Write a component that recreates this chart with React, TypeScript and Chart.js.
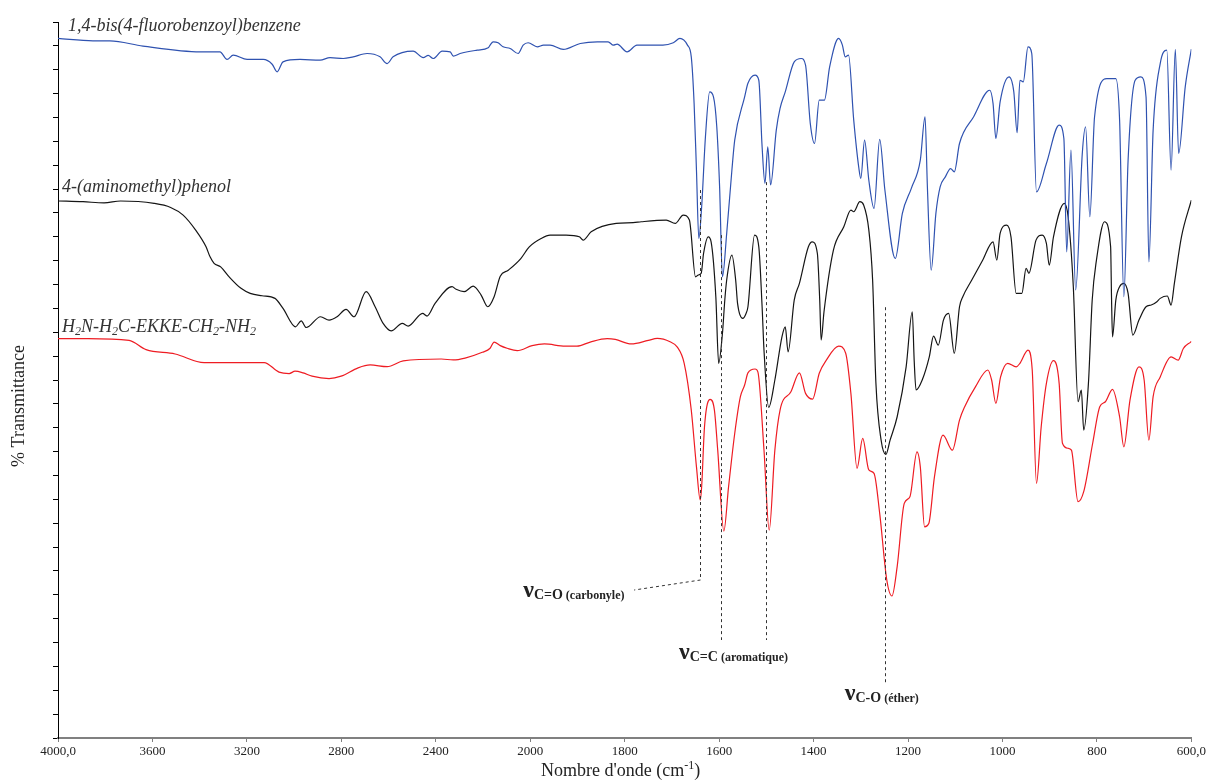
import React, { useEffect, useRef } from "react";
import { Chart, registerables } from "chart.js";

Chart.register(...registerables);

// ---- axis definition (wavenumber axis with scale change at 2000 cm-1) ----
const xTickWn = [4000, 3600, 3200, 2800, 2400, 2000, 1800, 1600, 1400, 1200, 1000, 800, 600];
const xTickLabels = ["4000,0", "3600", "3200", "2800", "2400", "2000", "1800", "1600", "1400", "1200", "1000", "800", "600,0"];

// ---- spectra: [wavenumber cm-1, transmittance (offset, a.u.)] ----
const blueSpectrum: [number, number][] = [
  [4000, 29.31], [3852, 29.21], [3780, 29.21], [3640, 28.99], [3398, 28.75], [3314, 28.75], [3284, 28.43], [3258, 28.61],
  [3199, 28.43], [3131, 28.43], [3093, 28.23], [3072, 27.91], [3047, 28.33], [2975, 28.43], [2890, 28.4], [2848, 28.51],
  [2792, 28.47], [2750, 28.54], [2691, 28.68], [2636, 28.54], [2606, 28.26], [2581, 28.54], [2496, 28.78], [2453, 28.51],
  [2432, 28.6], [2411, 28.47], [2373, 28.78], [2339, 28.75], [2326, 28.57], [2297, 28.68], [2225, 28.82], [2178, 28.92],
  [2170, 29.03], [2157, 29.17], [2136, 29.13], [2115, 28.96], [2085, 28.89], [2051, 28.68], [2030, 29.03], [2009, 29.13],
  [1985, 28.96], [1972, 29.03], [1958, 29.03], [1930, 28.85], [1894, 29.1], [1858, 29.17], [1835, 29.17], [1824, 29.03],
  [1816, 29.07], [1795, 28.75], [1774, 29.03], [1719, 29.03], [1697, 29.13], [1683, 29.31], [1667, 29.03], [1659, 28.54],
  [1653, 26.59], [1648, 23.79], [1643, 20.93], [1637, 22.26], [1629, 25.19], [1620, 27.07], [1612, 26.86], [1605, 25.61],
  [1599, 23.09], [1593, 19.32], [1584, 21.14], [1573, 23.79], [1567, 25.05], [1546, 26.86], [1539, 27.43], [1524, 27.77],
  [1516, 27.56], [1509, 24.77], [1503, 23.24], [1497, 24.77], [1491, 23.17], [1479, 25.47], [1471, 26.38], [1460, 27.07],
  [1441, 28.33], [1426, 28.47], [1417, 28.19], [1407, 25.75], [1398, 24.91], [1388, 26.73], [1377, 26.73], [1366, 28.12],
  [1347, 29.31], [1339, 29.03], [1333, 28.54], [1326, 28.61], [1315, 25.89], [1304, 23.86], [1300, 23.45], [1292, 25.05],
  [1283, 23.37], [1272, 22.19], [1260, 25.08], [1249, 22.96], [1227, 20.09], [1212, 21.98], [1193, 23.03], [1174, 24.21],
  [1164, 26.03], [1159, 23.09], [1151, 19.6], [1141, 21.98], [1132, 23.09], [1121, 23.51], [1110, 23.86], [1102, 23.72],
  [1091, 24.91], [1061, 26.03], [1027, 27.14], [1020, 26.59], [1014, 25.12], [1005, 26.65], [986, 27.7], [976, 27.07],
  [969, 25.36], [963, 27.56], [956, 27.49], [946, 28.96], [938, 28.68], [928, 22.88], [907, 24.07], [880, 25.68],
  [870, 25.12], [864, 20.37], [855, 24.63], [845, 18.77], [831, 24.49], [824, 25.61], [815, 21.84], [805, 26.03],
  [779, 27.63], [760, 27.63], [752, 25.89], [743, 18.49], [734, 24.21], [719, 27.56], [707, 27.7], [696, 26.86],
  [690, 19.95], [681, 25.47], [666, 28.26], [652, 28.82], [643, 23.79], [634, 28.85], [627, 24.49], [613, 27.28],
  [601, 28.75], [600, 28.86],
];

const blackSpectrum: [number, number][] = [
  [4000, 22.5], [3894, 22.47], [3805, 22.42], [3735, 22.5], [3593, 22.4], [3523, 22.23], [3470, 21.91], [3417, 21.28],
  [3373, 20.58], [3356, 20.16], [3339, 19.89], [3311, 19.74], [3275, 19.32], [3225, 18.84], [3186, 18.63], [3136, 18.53],
  [3081, 18.42], [3047, 18.0], [2994, 17.23], [2970, 17.48], [2949, 17.2], [2888, 17.65], [2852, 17.51], [2818, 17.65],
  [2780, 17.96], [2746, 17.65], [2695, 18.7], [2657, 18.07], [2623, 17.37], [2589, 17.06], [2542, 17.37], [2517, 17.26],
  [2456, 17.79], [2437, 17.68], [2403, 18.21], [2331, 18.91], [2314, 18.8], [2280, 18.7], [2242, 18.93], [2208, 18.56],
  [2180, 18.07], [2153, 18.49], [2127, 19.35], [2093, 19.6], [2040, 20.09], [2004, 20.58], [1977, 20.93], [1958, 21.07],
  [1924, 21.07], [1896, 21.0], [1888, 20.86], [1871, 21.21], [1818, 21.56], [1782, 21.59], [1765, 21.63], [1712, 21.7],
  [1693, 21.56], [1676, 21.91], [1663, 21.7], [1650, 19.32], [1644, 19.4], [1638, 19.47], [1633, 20.3], [1623, 21.0],
  [1617, 20.79], [1607, 18.49], [1601, 15.7], [1593, 16.95], [1588, 18.35], [1584, 19.19], [1573, 20.23], [1565, 19.19],
  [1561, 18.21], [1550, 17.58], [1543, 17.79], [1539, 18.07], [1525, 21.07], [1516, 20.58], [1509, 18.07], [1505, 16.25],
  [1495, 13.85], [1482, 15.0], [1467, 16.81], [1460, 17.23], [1454, 16.18], [1441, 18.35], [1430, 19.05], [1411, 20.58],
  [1403, 20.79], [1392, 20.3], [1387, 18.35], [1384, 16.67], [1378, 17.85], [1358, 20.44], [1336, 21.42], [1321, 22.12],
  [1315, 22.05], [1302, 22.47], [1294, 22.33], [1283, 21.28], [1275, 19.19], [1268, 14.86], [1257, 12.48], [1247, 11.88],
  [1238, 12.48], [1223, 13.46], [1204, 15.55], [1191, 17.86], [1187, 15.83], [1183, 14.58], [1170, 15.0], [1155, 15.97],
  [1146, 16.84], [1136, 16.46], [1125, 17.51], [1114, 17.79], [1102, 16.12], [1091, 18.07], [1084, 18.49], [1065, 19.19],
  [1042, 20.02], [1020, 20.79], [1012, 20.02], [1005, 21.14], [991, 21.49], [982, 21.0], [971, 18.63], [959, 18.63],
  [950, 19.68], [944, 19.47], [929, 20.86], [916, 21.07], [907, 20.72], [901, 19.81], [892, 21.0], [869, 22.4],
  [861, 21.84], [850, 18.91], [840, 14.09], [833, 14.58], [828, 12.9], [818, 14.86], [810, 18.35], [801, 20.02],
  [784, 21.63], [771, 20.58], [769, 18.35], [767, 16.81], [760, 18.35], [752, 18.91], [743, 19.05], [734, 18.63],
  [724, 16.88], [711, 17.51], [696, 18.07], [685, 18.14], [673, 18.28], [666, 18.42], [651, 18.52], [643, 18.14],
  [636, 19.05], [621, 21.0], [601, 22.47], [600, 22.54],
];

const redSpectrum: [number, number][] = [
  [4000, 16.73], [3873, 16.73], [3699, 16.66], [3627, 16.27], [3504, 16.09], [3381, 15.73], [3153, 15.73], [3127, 15.73],
  [3064, 15.33], [3021, 15.27], [2996, 15.37], [2962, 15.3], [2924, 15.16], [2852, 15.06], [2801, 15.16], [2729, 15.51],
  [2678, 15.63], [2606, 15.56], [2538, 15.8], [2377, 15.88], [2326, 15.84], [2276, 15.92], [2203, 16.16], [2170, 16.33],
  [2153, 16.59], [2127, 16.44], [2098, 16.33], [2055, 16.23], [1996, 16.44], [1970, 16.51], [1926, 16.42], [1901, 16.42],
  [1873, 16.59], [1837, 16.73], [1820, 16.7], [1786, 16.51], [1750, 16.66], [1731, 16.74], [1704, 16.6], [1689, 16.39],
  [1674, 15.7], [1659, 13.74], [1648, 11.36], [1640, 9.97], [1637, 10.53], [1631, 13.04], [1619, 14.19], [1610, 13.74],
  [1603, 12.06], [1590, 8.67], [1580, 10.53], [1567, 12.76], [1555, 14.3], [1546, 14.79], [1539, 15.3], [1524, 15.46],
  [1518, 15.34], [1505, 12.06], [1494, 8.71], [1482, 12.06], [1471, 13.74], [1448, 14.51], [1430, 15.3], [1417, 14.44],
  [1402, 14.2], [1388, 15.28], [1373, 15.83], [1347, 16.42], [1332, 16.12], [1321, 14.44], [1308, 11.3], [1296, 12.55],
  [1283, 11.23], [1272, 11.09], [1260, 9.41], [1245, 6.62], [1234, 5.95], [1223, 7.18], [1208, 9.83], [1196, 10.11],
  [1181, 11.99], [1174, 11.36], [1165, 8.85], [1156, 8.99], [1144, 10.95], [1126, 12.69], [1106, 12.06], [1091, 13.32],
  [1080, 13.88], [1057, 14.72], [1031, 15.42], [1023, 15.0], [1014, 14.02], [1004, 15.13], [989, 15.7], [971, 15.55],
  [963, 15.7], [946, 16.25], [937, 15.42], [928, 10.67], [918, 13.04], [907, 14.86], [892, 15.81], [880, 14.86],
  [873, 12.35], [861, 12.14], [854, 12.06], [840, 9.9], [828, 10.32], [809, 12.35], [794, 13.88], [782, 14.09],
  [767, 14.61], [752, 13.46], [743, 12.2], [730, 14.16], [711, 15.55], [700, 15.0], [690, 12.48], [681, 14.3],
  [666, 15.13], [643, 15.97], [628, 15.83], [617, 16.32], [601, 16.6], [600, 16.62],
];

// ---- series names and their anchors [wavenumber, value] ----
const seriesNames = ["1,4-bis(4-fluorobenzoyl)benzene", "4-(aminomethyl)phenol", "H2N-H2C-EKKE-CH2-NH2"];
const seriesColors = ["#2f52b0", "#151515", "#ee1c23"];
const seriesLabelAnchors: [number, number][] = [[3958, 29.62], [3983, 22.87], [3983, 17.01]];

// ---- band assignment markers ----
const markerWn = [1640, 1596, 1501, 1248];
const markerTop = [22.96, 21.07, 23.29, 18.05];
const markerBottom = [6.62, 4.11, 4.11, 2.3];
const leaderEnd: [number, number] = [1780, 6.2];
const bandSubs = ["C=O", "C=C", "C-O"];
const bandNotes = ["(carbonyle)", "(aromatique)", "(éther)"];
const bandAnchors: [number, number][] = [[2030, 5.91], [1685, 3.31], [1334, 1.59]];

const SERIF = '"Liberation Serif", "Times New Roman", serif';

const toT = (w: number) => (w >= 2000 ? (4000 - w) / 2 : 1000 + (2000 - w));

type Part = { t: string; font: string; dy: number };

function drawRich(ctx: CanvasRenderingContext2D, x: number, y: number, parts: Part[]) {
  let cx = x;
  for (const p of parts) {
    ctx.font = p.font;
    ctx.fillText(p.t, cx, y + p.dy);
    cx += ctx.measureText(p.t).width;
  }
  return cx;
}

function richWidth(ctx: CanvasRenderingContext2D, parts: Part[]) {
  let w = 0;
  for (const p of parts) {
    ctx.font = p.font;
    w += ctx.measureText(p.t).width;
  }
  return w;
}

const decorPlugin = {
  id: "decor",
  afterDraw(chart: any) {
    const ctx: CanvasRenderingContext2D = chart.ctx;
    const xs = chart.scales.x;
    const ys = chart.scales.y;
    const px = (w: number) => xs.getPixelForValue(toT(w));
    const py = (v: number) => ys.getPixelForValue(v);
    ctx.save();

    // dashed marker lines
    ctx.strokeStyle = "#333";
    ctx.lineWidth = 1;
    ctx.setLineDash([3, 3]);
    markerWn.forEach((w, i) => {
      ctx.beginPath();
      ctx.moveTo(Math.round(px(w)) + 0.5, py(markerTop[i]));
      ctx.lineTo(Math.round(px(w)) + 0.5, py(markerBottom[i]));
      ctx.stroke();
    });
    ctx.beginPath();
    ctx.moveTo(Math.round(px(markerWn[0])) + 0.5, py(markerBottom[0]));
    ctx.lineTo(px(leaderEnd[0]), py(leaderEnd[1]));
    ctx.stroke();
    ctx.setLineDash([]);

    // band labels
    ctx.fillStyle = "#222";
    ctx.textBaseline = "alphabetic";
    ctx.textAlign = "left";
    bandSubs.forEach((s, i) => {
      const [w, v] = bandAnchors[i];
      drawRich(ctx, px(w), py(v), [
        { t: "ν", font: `bold 24px ${SERIF}`, dy: 0 },
        { t: s, font: `bold 14px ${SERIF}`, dy: 2 },
        { t: " " + bandNotes[i], font: `bold 12px ${SERIF}`, dy: 2 },
      ]);
    });

    // series labels
    ctx.fillStyle = "#333";
    const it = `italic 18px ${SERIF}`;
    const sub = `italic 12px ${SERIF}`;
    seriesNames.forEach((name, i) => {
      const [w, v] = seriesLabelAnchors[i];
      const x = px(w);
      const y = py(v);
      if (i < 2) {
        ctx.font = it;
        ctx.fillText(name, x, y);
      } else {
        drawRich(ctx, x, y, [
          { t: "H", font: it, dy: 0 },
          { t: "2", font: sub, dy: 3 },
          { t: "N-H", font: it, dy: 0 },
          { t: "2", font: sub, dy: 3 },
          { t: "C-EKKE-CH", font: it, dy: 0 },
          { t: "2", font: sub, dy: 3 },
          { t: "-NH", font: it, dy: 0 },
          { t: "2", font: sub, dy: 3 },
        ]);
      }
    });

    // axis titles
    ctx.fillStyle = "#222";
    const tf = `18px ${SERIF}`;
    const xParts: Part[] = [
      { t: "Nombre d'onde (cm", font: tf, dy: 0 },
      { t: "-1", font: `12px ${SERIF}`, dy: -7 },
      { t: ")", font: tf, dy: 0 },
    ];
    const xw = richWidth(ctx, xParts);
    const xc = (chart.chartArea.left + chart.chartArea.right) / 2 - 4;
    drawRich(ctx, xc - xw / 2, chart.chartArea.bottom + 38, xParts);

    ctx.translate(24, (chart.chartArea.top + chart.chartArea.bottom) / 2 + 26);
    ctx.rotate(-Math.PI / 2);
    ctx.font = tf;
    ctx.textAlign = "center";
    ctx.fillText("% Transmittance", 0, 0);
    ctx.restore();
  },
};

export default function App() {
  const ref = useRef<HTMLCanvasElement>(null);
  useEffect(() => {
    if (!ref.current) return;
    const mk = (arr: [number, number][]) => arr.map(([w, v]) => ({ x: toT(w), y: v }));
    const chart = new Chart(ref.current, {
      type: "line",
      data: {
        datasets: [blueSpectrum, blackSpectrum, redSpectrum].map((s, i) => ({
          label: seriesNames[i],
          data: mk(s),
          borderColor: seriesColors[i],
          borderWidth: 1.2,
          pointRadius: 0,
          fill: false,
          cubicInterpolationMode: "monotone" as const,
        })),
      },
      options: {
        responsive: false,
        animation: false,
        devicePixelRatio: 1,
        layout: { padding: { left: 48, top: 22, right: 16, bottom: 0 } },
        plugins: { legend: { display: false }, tooltip: { enabled: false } },
        scales: {
          x: {
            type: "linear",
            min: 0,
            max: 2400,
            afterBuildTicks: (s: any) => {
              s.ticks = xTickWn.map((w) => ({ value: toT(w) }));
            },
            afterFit: (s: any) => {
              s.height = 42;
            },
            grid: { drawOnChartArea: false, drawTicks: true, tickLength: 4, color: "#808080" },
            border: { display: true, color: "#808080", width: 2 },
            ticks: {
              autoSkip: false,
              maxRotation: 0,
              padding: 2,
              color: "#222",
              font: { family: SERIF, size: 13 },
              callback: (_v: any, i: number) => xTickLabels[i],
            },
          },
          y: {
            min: 0,
            max: 30,
            afterFit: (s: any) => {
              s.width = 10;
            },
            ticks: { display: false, stepSize: 1 },
            grid: { drawOnChartArea: false, drawTicks: true, tickLength: 5, color: "#000" },
            border: { display: true, color: "#000", width: 1 },
          },
        },
      },
      plugins: [decorPlugin],
    });
    return () => chart.destroy();
  }, []);
  return (
    <div style={{ position: "absolute", left: 0, top: 0, width: 1208, height: 780, background: "#fff" }}>
      <canvas ref={ref} width={1208} height={780} style={{ width: 1208, height: 780, display: "block" }} />
    </div>
  );
}
